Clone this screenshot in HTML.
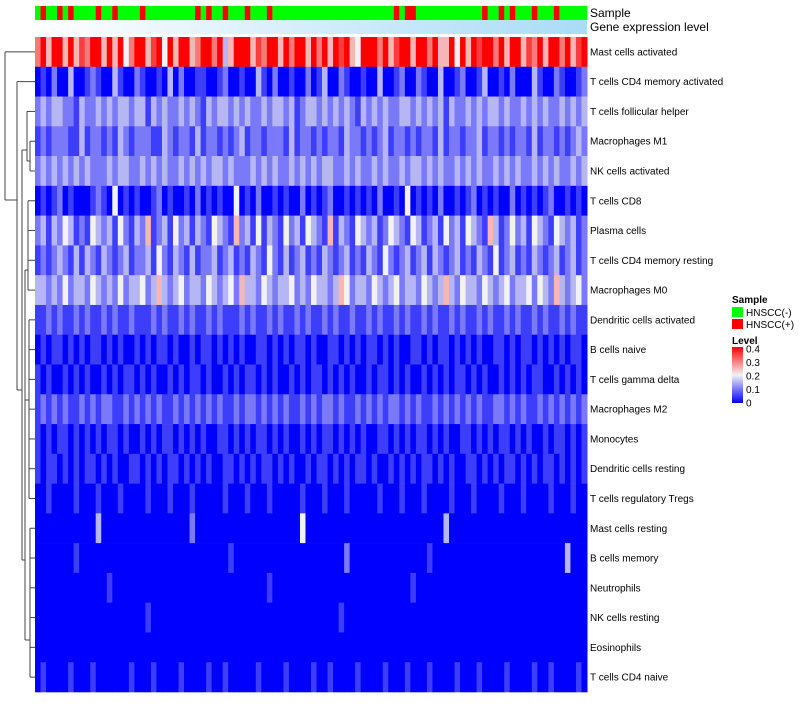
<!DOCTYPE html>
<html><head><meta charset="utf-8"><style>
body{margin:0;background:#fff;font-family:"Liberation Sans",sans-serif}
</style></head><body>
<svg id="chart" width="800" height="700" xmlns="http://www.w3.org/2000/svg">
<defs>
<linearGradient id="geneGrad" x1="0" x2="1" y1="0" y2="0"><stop offset="0" stop-color="#ffffff"/><stop offset="1" stop-color="#a9dcf7"/></linearGradient>
<linearGradient id="levelGrad" x1="0" x2="0" y1="1" y2="0"><stop offset="0" stop-color="#0000ff"/><stop offset="0.5" stop-color="#f2f2f2"/><stop offset="1" stop-color="#ff0000"/></linearGradient>
</defs>
<g id="cells"></g>
<rect x="35" y="20" width="552" height="14" fill="url(#geneGrad)"/>
<g id="sampleBar"></g>
<text x="590" y="17" font-size="12">Sample</text>
<text x="590" y="31" font-size="12">Gene expression level</text>
<g id="labels"></g>
<g id="dendro" stroke="#444" stroke-width="1" fill="none"></g>
<g>
<text x="732" y="303" font-size="10" font-weight="bold">Sample</text>
<rect x="732" y="307" width="11" height="10" fill="#00ff00"/>
<text x="746" y="316" font-size="10">HNSCC(-)</text>
<rect x="732" y="319" width="11" height="10" fill="#ff0000"/>
<text x="746" y="328" font-size="10">HNSCC(+)</text>
<text x="732" y="344" font-size="10" font-weight="bold">Level</text>
<rect x="732" y="347" width="11" height="56" fill="url(#levelGrad)"/>
<g id="levelTicks" font-size="10"></g>
</g>
</svg>
<script>
const rowNames=["Mast cells activated","T cells CD4 memory activated","T cells follicular helper","Macrophages M1","NK cells activated","T cells CD8","Plasma cells","T cells CD4 memory resting","Macrophages M0","Dendritic cells activated","B cells naive","T cells gamma delta","Macrophages M2","Monocytes","Dendritic cells resting","T cells regulatory  Tregs","Mast cells resting","B cells memory","Neutrophils","NK cells resting","Eosinophils","T cells CD4 naive"];
// each digit d => level d*0.05
const rowData=[
"6858858576885858468857848588568868358885768858688586858785488868578858868558485878868588576858868578",
"0102003001210031002100103020011001200100310200100201300210010030012002100300120013001020003100210012",
"2323322132232323323313232232321323323232232332312332323232132323223323232313223232332322323232232323",
"1212221131221213212221132122131221212312212221312212122132212123122121221312212231221212213122121232",
"2323232323222323322323232232323233232223232322323232332232322323223233232322323232232323223232322323",
"0101201000121040101001201001020101004010200101002010120010101020010401010200101201010020101012001010",
"2313243121432314213251231423132143215231413214231432151321432312432143123142314321531242314321432312",
"1212321313213212312231421321312231231213214213123121321231213214212312313212312132141231213212312312",
"3323242332432324233423532342332432342533243233423243323542332432342332432353243324323423342432532342",
"1121211212112121121112121121211212111212112121121211212112112121121211212112121121211212112121121211",
"0101101010110101001010110100101101010100110101011010011010101101010011010110101010011010110101010110",
"1010010101001010110101001010110100101011010100101011010101001011010100101010110101001010101100101010",
"1212121121212211212121211212121212112122121212112121221211212121221212112121212121122121211212121212",
"1010110101010110100101011010101001101010110101001010110101010011010101101010011010101101010010110101",
"1011010101101010011010101101010100110101011010100101101010110100101010110101001101010110101011010101",
"0010000100010001000010001000100000100010001000001000100010000010001000100001000100001000100001000100",
"0000000000030000000000000000200000000000000000004000000000000000000000000030000000000000000000000000",
"0000000100000000000000000000000000010000000000000000000020000000000000010000000000000000000000003000",
"0000000000000100000000000000000000000000001000000000000000000000000010000000000000000000000000000000",
"0000000000000000000010000000000000000000000000000000000100000000000000000000000000000000000000000000",
"0000000000000000000000000000000000000000000000000000000000000000000000000000000000000000000000000000",
"0100001000100000010001000010000100100000100001000010010000100001000100010000100010000100001001000010"
];
const sampleGroups="0100101000010010000100000000010100100010001000000000000000000000010110000000000001001010001000100000";
const levelTicks=["0","0.1","0.2","0.3","0.4"];
const X0=35,W=552,Y0=37,H=655,rh=H/rowNames.length;
function colorOf(v){const t=Math.max(0,Math.min(1,v/0.4));let r,g,b;
 if(t<0.5){const s=t/0.5;r=Math.round(242*s);g=Math.round(242*s);b=Math.round(255-13*s);}
 else{const s=(t-0.5)/0.5;r=Math.round(242+13*s);g=Math.round(242*(1-s));b=Math.round(242*(1-s));}
 return `rgb(${r},${g},${b})`;}
const NS="http://www.w3.org/2000/svg";
const cells=document.getElementById('cells');
rowData.forEach((str,i)=>{const n=str.length,cw=W/n;
 for(let j=0;j<n;j++){const r=document.createElementNS(NS,'rect');
  r.setAttribute('x',X0+j*cw);r.setAttribute('y',Y0+i*rh);r.setAttribute('width',cw+0.5);r.setAttribute('height',rh+0.3);
  r.setAttribute('fill',colorOf(+str[j]*0.05));
  
  
  cells.appendChild(r);}
});
const sb=document.getElementById('sampleBar');const sw=W/sampleGroups.length;
for(let j=0;j<sampleGroups.length;j++){const r=document.createElementNS(NS,'rect');
 r.setAttribute('x',X0+j*sw);r.setAttribute('y',6);r.setAttribute('width',sw+0.4);r.setAttribute('height',14);
 r.setAttribute('fill',sampleGroups[j]==='1'?'#ff0000':'#00ff00');
 
 
 sb.appendChild(r);}
const lg=document.getElementById('labels');
rowNames.forEach((nm,i)=>{const t=document.createElementNS(NS,'text');
 t.setAttribute('x',590);t.setAttribute('y',Y0+i*rh+rh/2+3.5);t.setAttribute('font-size','10');t.textContent=nm;
 
 
 lg.appendChild(t);});
const lt=document.getElementById('levelTicks');
levelTicks.forEach((l,k)=>{const y=403-k*13.5;const t=document.createElementNS(NS,'text');
 t.setAttribute('x',746);t.setAttribute('y',y+3.5);t.textContent=l;
 
 
 lt.appendChild(t);});
// dendrogram (approximate)
const yc=i=>Y0+i*rh+rh/2;
const segs=[
[5,yc(0),5,200],[5,yc(0),35,yc(0)],[5,200,17,200],
[17,yc(1),17,390],[17,yc(1),35,yc(1)],[17,390,22,390],
[22,150,22,560],[22,150,27,150],[27,yc(2),27,yc(4)-10],[27,yc(2),35,yc(2)],[27,yc(4)-10,30,yc(4)-10],[30,yc(3),30,yc(4)],[30,yc(3),35,yc(3)],[30,yc(4),35,yc(4)],
[22,560,25,560],[25,270,25,640],[25,270,28,270],[28,yc(5),28,yc(8)],[28,yc(5),35,yc(5)],[28,yc(6),35,yc(6)],[28,yc(7),35,yc(7)],[28,yc(8),35,yc(8)],
[25,400,29,400],[29,yc(9),29,yc(15)],[29,yc(9),35,yc(9)],[29,yc(10),35,yc(10)],[29,yc(11),35,yc(11)],[29,yc(12),35,yc(12)],[29,yc(13),35,yc(13)],[29,yc(14),35,yc(14)],[29,yc(15),35,yc(15)],
[25,640,30,640],[30,yc(16),30,yc(21)],[30,yc(16),35,yc(16)],[30,yc(17),35,yc(17)],[30,yc(18),35,yc(18)],[30,yc(19),35,yc(19)],[30,yc(20),35,yc(20)],[30,yc(21),35,yc(21)]
];
const dg=document.getElementById('dendro');
segs.forEach(s=>{const l=document.createElementNS(NS,'line');
 l.setAttribute('x1',s[0]);l.setAttribute('y1',s[1]);l.setAttribute('x2',s[2]);l.setAttribute('y2',s[3]);
 dg.appendChild(l);});
</script>
</body></html>
